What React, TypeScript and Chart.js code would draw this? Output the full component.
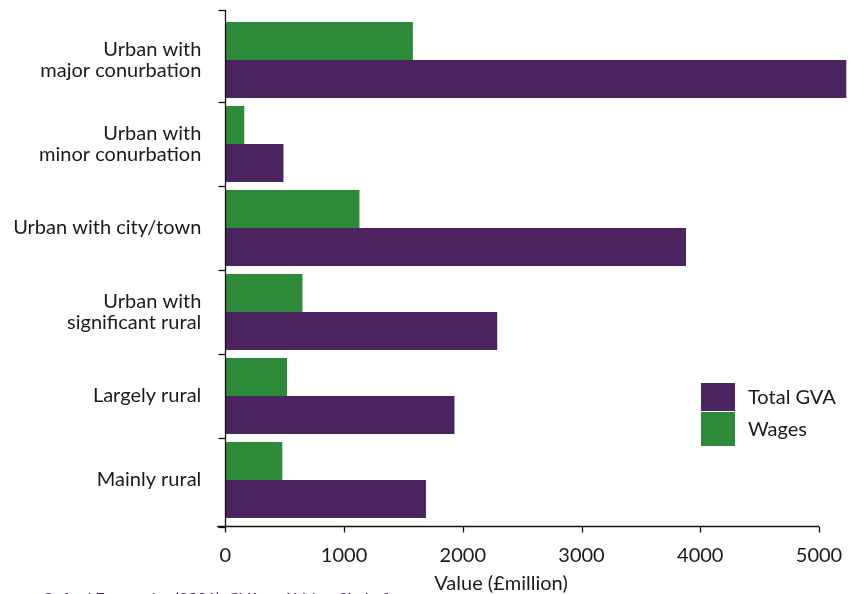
import React, { useEffect, useRef } from "react";
import { Chart, registerables } from "chart.js";

Chart.register(...registerables);

const categories: (string | string[])[] = [
  ["Urban with", "major conurbation"],
  ["Urban with", "minor conurbation"],
  "Urban with city/town",
  ["Urban with", "significant rural"],
  "Largely rural",
  "Mainly rural",
];
const wages = [1580, 160, 1130, 650, 520, 480];
const totalGVA = [5230, 490, 3880, 2290, 1930, 1690];
const xTicks = [0, 1000, 2000, 3000, 4000, 5000];
const xTitle = "Value (£million)";
const sourceText = "Oxford Economics (2021), GVA and Value Chain figures";

const PURPLE = "#4a235f";
const GREEN = "#2d8a39";
const FONT = "Lato, 'Noto Sans', sans-serif";
const TEXT = "#1a1a1a";

const decorPlugin = {
  id: "decor",
  afterDraw(chart: any) {
    const ctx = chart.ctx;
    const xs = chart.scales.x;
    const ys = chart.scales.y;
    const area = chart.chartArea;
    ctx.save();
    ctx.strokeStyle = "#111";
    ctx.lineWidth = 1.3;
    const axisY = area.bottom + 4.5;
    const axisX = Math.round(area.left) + 0.5;
    // y axis line
    ctx.beginPath();
    ctx.moveTo(axisX, area.top - 8);
    ctx.lineTo(axisX, axisY);
    ctx.stroke();
    // y ticks at category boundaries
    const n = categories.length;
    const ticksY: number[] = [area.top - 8];
    for (let i = 1; i < n; i++) {
      ticksY.push((ys.getPixelForValue(i - 1) + ys.getPixelForValue(i)) / 2);
    }
    ticksY.push(axisY);
    ticksY.forEach((ty) => {
      ctx.beginPath();
      ctx.moveTo(axisX - 7, Math.round(ty) + 0.5);
      ctx.lineTo(axisX, Math.round(ty) + 0.5);
      ctx.stroke();
    });
    // x axis line
    const x0 = xs.getPixelForValue(xTicks[0]);
    const x1 = xs.getPixelForValue(xTicks[xTicks.length - 1]);
    ctx.beginPath();
    ctx.moveTo(x0 - 8, axisY);
    ctx.lineTo(x1, axisY);
    ctx.stroke();
    xTicks.forEach((v) => {
      const px = Math.round(xs.getPixelForValue(v)) + 0.5;
      ctx.beginPath();
      ctx.moveTo(px, axisY);
      ctx.lineTo(px, axisY + 6);
      ctx.stroke();
    });
    // axis title
    ctx.fillStyle = TEXT;
    ctx.font = `20px ${FONT}`;
    ctx.textAlign = "center";
    ctx.textBaseline = "alphabetic";
    ctx.fillText(xTitle, 501, 590);
    // source text (cut off at bottom)
    ctx.fillStyle = PURPLE;
    ctx.font = `16px ${FONT}`;
    ctx.textAlign = "left";
    ctx.textBaseline = "alphabetic";
    ctx.fillText(sourceText, 42, 604);
    // legend
    const items = [
      { label: chart.data.datasets[1].label, color: PURPLE, y0: 383, y1: 411 },
      { label: chart.data.datasets[0].label, color: GREEN, y0: 412, y1: 446 },
    ];
    ctx.font = `20px ${FONT}`;
    items.forEach((it) => {
      ctx.fillStyle = it.color;
      ctx.fillRect(701, it.y0, 34, it.y1 - it.y0);
      ctx.fillStyle = TEXT;
      ctx.textBaseline = "middle";
      ctx.fillText(it.label, 748, (it.y0 + it.y1) / 2 + 1);
    });
    ctx.restore();
  },
};

export default function App() {
  const ref = useRef<HTMLCanvasElement | null>(null);
  useEffect(() => {
    if (!ref.current) return;
    const chart = new Chart(ref.current, {
      type: "bar",
      data: {
        labels: categories as any,
        datasets: [
          {
            label: "Wages",
            data: wages,
            backgroundColor: GREEN,
            categoryPercentage: 0.905,
            barPercentage: 1,
            clip: false as any,
          },
          {
            label: "Total GVA",
            data: totalGVA,
            backgroundColor: PURPLE,
            categoryPercentage: 0.905,
            barPercentage: 1,
            clip: false as any,
          },
        ],
      },
      options: {
        indexAxis: "y",
        animation: false,
        responsive: false,
        maintainAspectRatio: false,
        layout: { padding: { top: 18, right: 46, left: 0, bottom: 0 } },
        plugins: {
          legend: { display: false },
          tooltip: { enabled: false },
        },
        scales: {
          x: {
            min: 0,
            max: 5000,
            afterFit: (s: any) => {
              s.height = 72;
              s.paddingLeft = 0;
              s.paddingRight = 0;
            },
            afterBuildTicks: (s: any) => {
              s.ticks = xTicks.map((v) => ({ value: v }));
            },
            grid: { display: false },
            border: { display: false },
            ticks: {
              color: TEXT,
              font: { family: FONT, size: 20 },
              padding: 14,
              maxRotation: 0,
              callback: (v: any) => String(v),
            },
          },
          y: {
            afterFit: (s: any) => {
              s.width = 225.3;
              s.paddingTop = 0;
              s.paddingBottom = 0;
            },
            grid: { display: false },
            border: { display: false },
            ticks: {
              color: TEXT,
              font: { family: FONT, size: 20, lineHeight: 1.05 },
              padding: 16,
            },
          },
        },
      },
      plugins: [decorPlugin],
    });
    return () => chart.destroy();
  }, []);
  return (
    <div style={{ position: "absolute", left: 0, top: 0, width: 865, height: 594, background: "#fff" }}>
      <canvas ref={ref} width={865} height={594} style={{ display: "block" }} />
    </div>
  );
}
